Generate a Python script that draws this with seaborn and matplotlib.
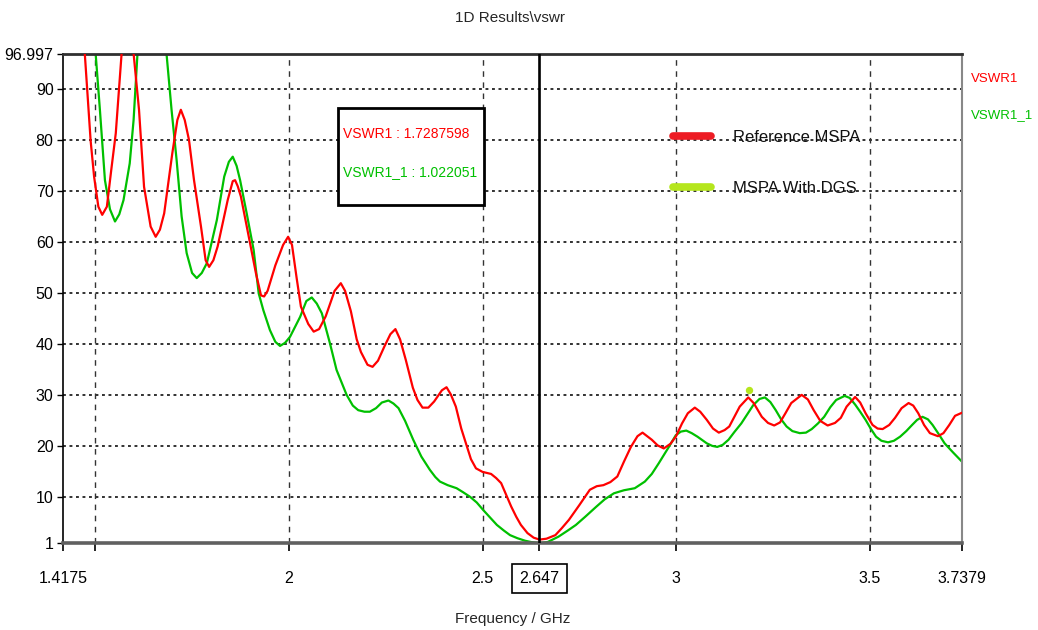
import matplotlib
matplotlib.use("Agg")
import matplotlib.pyplot as plt
from matplotlib.lines import Line2D
from matplotlib.patches import Rectangle
import pandas as pd
import seaborn as sns

# ---- data -------------------------------------------------------------
freq_ref = [1.4175, 1.45, 1.473, 1.488, 1.497, 1.508, 1.518, 1.530, 1.541, 1.553,
            1.568, 1.583, 1.599, 1.613, 1.626, 1.643, 1.656, 1.667, 1.678, 1.699,
            1.712, 1.721, 1.731, 1.742, 1.755, 1.773, 1.785, 1.794, 1.805, 1.816,
            1.842, 1.855, 1.861, 1.868, 1.876, 1.893, 1.915, 1.928, 1.936, 1.945,
            1.965, 1.985, 1.998, 2.008, 2.020, 2.031, 2.050, 2.064, 2.078, 2.095,
            2.118, 2.134, 2.145, 2.160, 2.175, 2.186, 2.203, 2.216, 2.230, 2.246,
            2.262, 2.275, 2.287, 2.302, 2.320, 2.332, 2.345, 2.360, 2.375, 2.395,
            2.407, 2.418, 2.431, 2.445, 2.457, 2.470, 2.483, 2.500, 2.522, 2.535,
            2.548, 2.561, 2.574, 2.587, 2.599, 2.616, 2.632, 2.647, 2.665, 2.688,
            2.705, 2.723, 2.750, 2.777, 2.795, 2.812, 2.830, 2.848, 2.865, 2.883,
            2.900, 2.913, 2.925, 2.937, 2.952, 2.968, 2.985, 2.999, 3.015, 3.030,
            3.048, 3.062, 3.079, 3.095, 3.110, 3.125, 3.137, 3.150, 3.164, 3.186,
            3.200, 3.221, 3.237, 3.253, 3.268, 3.282, 3.297, 3.324, 3.340, 3.355,
            3.372, 3.391, 3.410, 3.425, 3.440, 3.462, 3.475, 3.489, 3.507, 3.520,
            3.533, 3.550, 3.565, 3.582, 3.600, 3.612, 3.625, 3.640, 3.655, 3.676,
            3.690, 3.705, 3.720, 3.7379]
vswr_ref = [150.0, 121.0, 97.0, 80.0, 72.9, 67.0, 65.4, 67.0, 74.0, 81.4,
            97.0, 112.0, 97.0, 86.0, 70.9, 63.1, 61.1, 62.5, 65.7, 77.5,
            84.0, 86.0, 84.0, 80.1, 72.2, 63.1, 56.5, 55.2, 56.5, 59.2,
            68.3, 72.0, 72.2, 71.0, 69.0, 62.4, 53.9, 49.6, 49.4, 50.5,
            55.5, 59.5, 61.1, 59.5, 53.0, 47.4, 44.0, 42.5, 43.0, 45.5,
            50.5, 52.0, 50.5, 46.5, 41.0, 38.5, 36.0, 35.6, 36.8, 39.5,
            42.0, 43.0, 41.0, 36.9, 31.5, 29.1, 27.6, 27.6, 28.8, 31.0,
            31.6, 30.2, 27.8, 23.5, 20.6, 17.5, 15.7, 15.0, 14.6, 13.8,
            12.8, 10.5, 8.2, 6.2, 4.6, 3.0, 2.1, 1.7287598, 1.9, 2.6,
            4.0, 5.6, 8.5, 11.5, 12.2, 12.4, 13.0, 14.1, 17.0, 19.9,
            22.0, 22.7, 22.0, 21.3, 20.2, 19.6, 20.5, 21.9, 24.5, 26.5,
            27.6, 26.8, 25.2, 23.5, 22.7, 23.2, 23.9, 25.8, 27.8, 29.6,
            28.5, 25.8, 24.6, 24.1, 24.7, 26.5, 28.5, 30.1, 29.2, 27.1,
            25.0, 24.1, 24.6, 25.6, 27.8, 29.7, 28.6, 26.5, 24.2, 23.5,
            23.4, 24.2, 25.6, 27.5, 28.5, 28.0, 26.5, 24.2, 22.6, 22.0,
            22.6, 24.2, 26.0, 26.6]

freq_dgs = [1.4175, 1.47, 1.501, 1.512, 1.525, 1.538, 1.551, 1.562, 1.573, 1.589,
            1.599, 1.609, 1.625, 1.645, 1.665, 1.684, 1.697, 1.710, 1.723, 1.736,
            1.750, 1.762, 1.775, 1.788, 1.814, 1.833, 1.845, 1.855, 1.865, 1.874,
            1.891, 1.909, 1.922, 1.934, 1.951, 1.965, 1.977, 1.990, 2.003, 2.029,
            2.045, 2.059, 2.072, 2.085, 2.106, 2.123, 2.149, 2.165, 2.179, 2.195,
            2.209, 2.225, 2.240, 2.257, 2.270, 2.283, 2.300, 2.321, 2.342, 2.364,
            2.378, 2.390, 2.410, 2.433, 2.450, 2.468, 2.485, 2.502, 2.520, 2.537,
            2.555, 2.571, 2.590, 2.610, 2.625, 2.647, 2.668, 2.683, 2.696, 2.720,
            2.741, 2.765, 2.794, 2.815, 2.839, 2.865, 2.893, 2.919, 2.937, 2.955,
            2.981, 2.999, 3.012, 3.026, 3.040, 3.055, 3.079, 3.093, 3.106, 3.120,
            3.135, 3.150, 3.168, 3.199, 3.215, 3.229, 3.243, 3.257, 3.271, 3.285,
            3.300, 3.319, 3.335, 3.350, 3.366, 3.382, 3.398, 3.413, 3.435, 3.448,
            3.462, 3.475, 3.489, 3.502, 3.516, 3.530, 3.547, 3.562, 3.578, 3.594,
            3.609, 3.622, 3.636, 3.650, 3.662, 3.677, 3.693, 3.715, 3.7379]
vswr_dgs = [180.0, 130.0, 97.0, 86.0, 72.2, 66.5, 64.1, 65.5, 68.3, 75.5,
            84.0, 97.0, 115.0, 125.0, 115.0, 97.0, 86.0, 76.2, 65.1, 57.9,
            54.0, 53.0, 54.0, 55.9, 64.4, 72.9, 75.8, 76.8, 75.0, 72.2,
            65.7, 58.5, 50.0, 46.7, 42.8, 40.5, 39.7, 40.3, 41.5, 45.4,
            48.5, 49.2, 48.0, 46.1, 40.2, 35.0, 30.1, 28.0, 27.1, 26.8,
            26.8, 27.5, 28.6, 29.0, 28.4, 27.5, 25.0, 21.3, 18.0, 15.4,
            14.0, 13.1, 12.4, 11.8, 11.0, 10.1, 9.0, 7.5, 6.0, 4.6,
            3.5, 2.6, 2.0, 1.5, 1.25, 1.022051, 1.25, 1.8, 2.3, 3.5,
            4.6, 6.2, 8.2, 9.6, 10.8, 11.4, 11.8, 13.1, 14.6, 16.7,
            19.9, 22.2, 22.9, 23.1, 22.6, 21.9, 20.6, 20.1, 19.9, 20.3,
            21.3, 22.8, 24.5, 28.1, 29.3, 29.6, 28.7, 27.1, 25.3, 23.9,
            23.0, 22.6, 22.7, 23.4, 24.5, 25.8, 27.7, 29.1, 29.9, 29.5,
            28.2, 26.8, 25.2, 23.5, 21.9, 21.1, 20.8, 21.1, 21.9, 23.0,
            24.2, 25.2, 25.8, 25.3, 24.2, 22.5, 20.6, 18.8, 17.0]

marker_freq = 2.647
marker_ref = 1.7287598
marker_dgs = 1.022051
dot_freq = [3.187]
dot_vswr = [31.0]

y_ticks = [1, 10, 20, 30, 40, 50, 60, 70, 80, 90, 96.997]
y_tick_labels = ["1", "10", "20", "30", "40", "50", "60", "70", "80", "90", "96.997"]
y_grid = [10, 20, 30, 40, 50, 60, 70, 80, 90]
x_ticks = [1.4175, 1.5, 2, 2.5, 2.647, 3, 3.5, 3.7379]
x_tick_labels = ["1.4175", "", "2", "2.5", "2.647", "3", "3.5", "3.7379"]
x_grid = [1.5, 2, 2.5, 3, 3.5]

series_names = ["VSWR1", "VSWR1_1"]
legend_names = ["Reference MSPA", "MSPA With DGS"]

# ---- style ------------------------------------------------------------
sns.set_style("white")
plt.rcParams["font.family"] = ["Liberation Sans", "DejaVu Sans"]

RED = "#ff0000"
GREEN = "#00c000"

W, H = 1038, 630
fig = plt.figure(figsize=(W / 100, H / 100), dpi=100)
x0, x1, y_top, y_bot = 63.3, 962.0, 53.7, 543.3
ax = fig.add_axes([x0 / W, 1 - y_bot / H, (x1 - x0) / W, (y_bot - y_top) / H])

# grid
for g in y_grid:
    ax.axhline(g, color="#222222", lw=1.3, ls=(0, (1.6, 2.0)), zorder=1)
for g in x_grid:
    ax.axvline(g, color="#333333", lw=1.0, ls=(0, (4, 4)), zorder=1)

# curves
df_ref = pd.DataFrame({"Frequency": freq_ref, "VSWR": vswr_ref})
df_dgs = pd.DataFrame({"Frequency": freq_dgs, "VSWR": vswr_dgs})
sns.lineplot(data=df_ref, x="Frequency", y="VSWR", color=RED, lw=1.6,
             sort=False, estimator=None, ax=ax, zorder=3)
sns.lineplot(data=df_dgs, x="Frequency", y="VSWR", color=GREEN, lw=1.6,
             sort=False, estimator=None, ax=ax, zorder=2)
ax.scatter(dot_freq, dot_vswr, color="#b5e61d", s=28, zorder=4, linewidths=0)

# marker line
ax.axvline(marker_freq, color="black", lw=1.9, zorder=5)

ax.set_xlim(1.4175, 3.7379)
ax.set_ylim(1, 96.997)

ax.set_yticks(y_ticks)
ax.set_yticklabels(y_tick_labels)
ax.set_xticks(x_ticks)
ax.set_xticklabels(x_tick_labels)
ax.tick_params(axis="y", left=True, direction="out", length=4, width=1,
               pad=3, labelsize=11.5, colors="black")
ax.tick_params(axis="x", bottom=True, direction="out", length=6, width=1.2,
               pad=14, labelsize=11.5, colors="black")
for lab in ax.get_xticklabels():
    if lab.get_text() == "2.647":
        lab.set_bbox(dict(boxstyle="square,pad=0.45", fc="white", ec="black", lw=1.2))

ax.set_xlabel("Frequency / GHz", fontsize=11, labelpad=19)
ax.set_ylabel("")

for side, col, lw in [("left", "#000000", 1.2), ("top", "#303030", 2.0),
                      ("bottom", "#606060", 2.6), ("right", "#888888", 1.5)]:
    ax.spines[side].set_visible(True)
    ax.spines[side].set_color(col)
    ax.spines[side].set_linewidth(lw)

# title
fig.text(510 / W, 1 - 18 / H, "1D Results\\vswr", ha="center", va="center",
         fontsize=11)

# curve legend inside the plot
handles = [Line2D([], [], color="#ed1c24", lw=5.5, solid_capstyle="round"),
           Line2D([], [], color="#b5e61d", lw=5.5, solid_capstyle="round")]
leg = ax.legend(handles, legend_names, loc="upper left",
                bbox_to_anchor=(673 / W, 1 - 130 / H), bbox_transform=fig.transFigure,
                frameon=False, fontsize=12, handlelength=2.3, handletextpad=1.3,
                labelspacing=2.15, borderpad=0, borderaxespad=0)
for t in leg.get_texts():
    t.set_color("#111111")

# marker read-out box
fig.patches.append(Rectangle((338 / W, 1 - 205 / H), 146 / W, 97 / H,
                             transform=fig.transFigure, fc="white", ec="black",
                             lw=2, zorder=6))
fig.text(343 / W, 1 - 134 / H, f"{series_names[0]} : {marker_ref}", color=RED,
         ha="left", va="center", fontsize=10, zorder=7)
fig.text(343 / W, 1 - 172 / H, f"{series_names[1]} : {marker_dgs}", color=GREEN,
         ha="left", va="center", fontsize=10, zorder=7)

# series names outside the plot
fig.text(971 / W, 1 - 79 / H, series_names[0], color=RED, ha="left", va="center",
         fontsize=9.5)
fig.text(971 / W, 1 - 115 / H, series_names[1], color=GREEN, ha="left", va="center",
         fontsize=9.5)

fig.savefig("out.png", dpi=100, facecolor="white")
